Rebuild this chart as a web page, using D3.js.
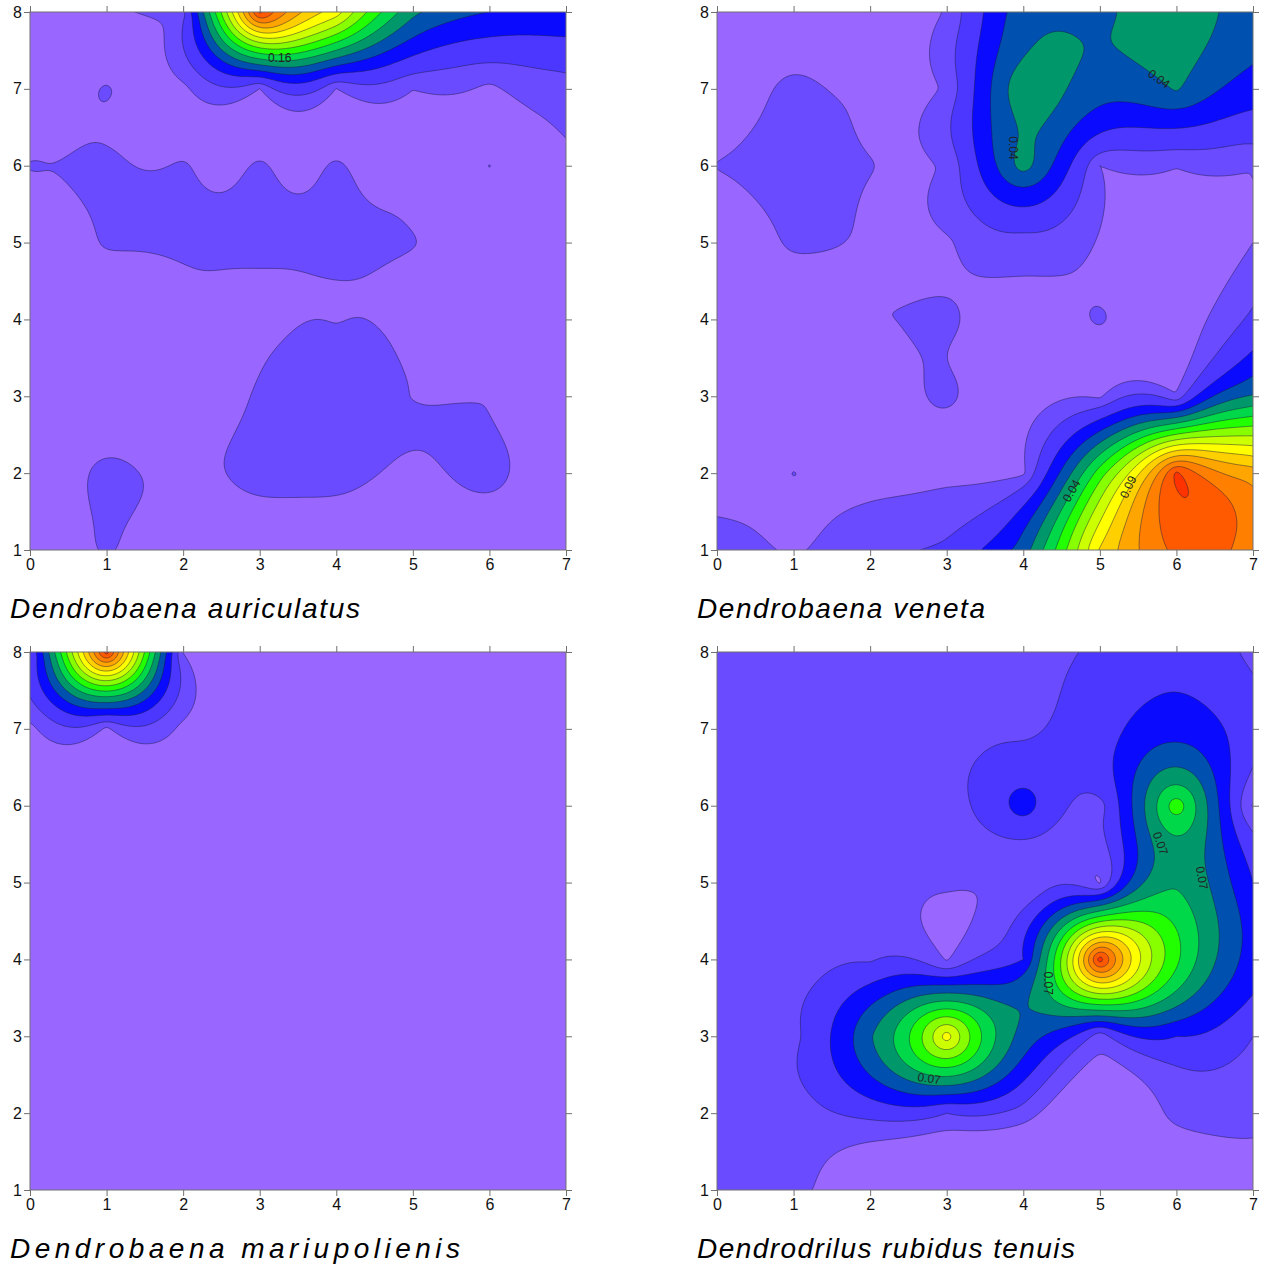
<!DOCTYPE html>
<html>
<head>
<meta charset="utf-8">
<script src="https://cdn.jsdelivr.net/npm/d3@7"></script>
<style>
  body { margin: 0; background: #fff; }
  text { font-family: "Liberation Sans", Arial, sans-serif; }
</style>
</head>
<body>
<div id="chart"></div>
<script>
// sampling sites (grid columns / rows)
const xSites = [0, 1, 2, 3, 4, 5, 6, 7];
const ySites = [8, 7, 6, 5, 4, 3, 2, 1];
const xTicks = [0, 1, 2, 3, 4, 5, 6, 7];
const yTicks = [1, 2, 3, 4, 5, 6, 7, 8];

const titles = [
  "Dendrobaena auriculatus",
  "Dendrobaena veneta",
  "Dendrobaena mariupolienis",
  "Dendrodrilus rubidus tenuis"
];

// density at each site, rows from y = 8 (top) down to y = 1
const auriculatusValues = [
  [0, 0, 0.03, 0.57, 0.38, 0.17, 0.12, 0.11],
  [0, 0.012, 0.004, 0.009, 0.009, 0.011, 0.004, 0.025],
  [0.0105, 0.012, 0.0115, 0.013, 0.013, 0.0098, 0.0103, 0.006],
  [0, 0.011, 0.0106, 0.0108, 0.0108, 0.0105, 0, 0],
  [0, 0, 0.0092, 0.0085, 0.0098, 0.0085, 0, 0],
  [0, 0, 0, 0.011, 0.016, 0.0098, 0.0095, 0],
  [0, 0.013, 0.0085, 0.014, 0.014, 0.008, 0.014, 0],
  [0, 0.011, 0, 0, 0, 0, 0, 0]
];
const venetaValues = [
  [0, 0, 0, 0.0035, 0.036, 0.038, 0.046, 0.035],
  [0, 0.004, 0.0025, 0.004, 0.048, 0.034, 0.041, 0.025],
  [0.0031, 0.0042, 0.0032, 0.004, 0.044, 0.003, 0.0035, 0.0035],
  [0, 0.0035, 0.0028, 0.0022, 0.007, 0.0025, 0, 0.003],
  [0, 0, 0.003, 0.0038, 0, 0.004, 0, 0.012],
  [0, 0, 0, 0.0042, 0, 0.002, 0.004, 0.041],
  [0, 0.0031, 0.002, 0.002, 0.002, 0.065, 0.142, 0.115],
  [0.006, 0.002, 0.007, 0.012, 0.035, 0.101, 0.132, 0.125]
];
const mariupolienisValues = [
  [0.02, 0.29, 0.003, 0, 0, 0, 0, 0],
  [0, 0, 0, 0, 0, 0, 0, 0],
  [0, 0, 0, 0, 0, 0, 0, 0],
  [0, 0, 0, 0, 0, 0, 0, 0],
  [0, 0, 0, 0, 0, 0, 0, 0],
  [0, 0, 0, 0, 0, 0, 0, 0],
  [0, 0, 0, 0, 0, 0, 0, 0],
  [0, 0, 0, 0, 0, 0, 0, 0]
];
const rubidusValues = [
  [0.035, 0.035, 0.035, 0.035, 0.038, 0.041, 0.047, 0.038],
  [0.035, 0.035, 0.035, 0.036, 0.038, 0.045, 0.056, 0.044],
  [0.035, 0.035, 0.035, 0.036, 0.055, 0.037, 0.096, 0.029],
  [0.035, 0.035, 0.035, 0.031, 0.03, 0.029, 0.079, 0.05],
  [0.035, 0.035, 0.039, 0.029, 0.05, 0.175, 0.092, 0.055],
  [0.035, 0.038, 0.069, 0.125, 0.066, 0.034, 0.05, 0.04],
  [0.035, 0.036, 0.043, 0.04, 0.036, 0.012, 0.034, 0.034],
  [0.035, 0.036, 0.01, 0, 0, 0, 0.015, 0.022]
];

// contour levels
const auriculatusLevels = [0.01, 0.04, 0.08, 0.12, 0.16, 0.2, 0.24, 0.28, 0.32, 0.36, 0.4, 0.44, 0.48, 0.52, 0.56];
const venetaLevels = [0.003, 0.01, 0.02, 0.03, 0.04, 0.05, 0.06, 0.07, 0.08, 0.09, 0.1, 0.11, 0.12, 0.13, 0.14];
const mariupolienisLevels = [0.004, 0.02, 0.04, 0.06, 0.08, 0.1, 0.12, 0.14, 0.16, 0.18, 0.2, 0.22, 0.24, 0.26, 0.28];
const rubidusLevels = [0.03, 0.04, 0.05, 0.06, 0.07, 0.08, 0.09, 0.1, 0.11, 0.12, 0.13, 0.14, 0.15, 0.16, 0.17];

// contour labels: [x, y, angle, text]
const auriculatusLabels = [[3.26, 7.40, 0, "0.16"]];
const venetaLabels = [
  [3.86, 6.23, 90, "0.04"],
  [5.77, 7.13, 35, "0.04"],
  [4.63, 1.77, -60, "0.04"],
  [5.37, 1.82, -65, "0.09"]
];
const mariupolienisLabels = [];
const rubidusLabels = [
  [2.77, 2.45, 8, "0.07"],
  [4.32, 3.69, 90, "0.07"],
  [5.79, 5.51, 70, "0.07"],
  [6.33, 5.06, 80, "0.07"]
];

const bandColors = [
  "#9966FF", "#6A4BFF", "#4B37FF", "#0A0AFF", "#0050B0", "#00986A",
  "#00D84A", "#22FF00", "#88FF00", "#CCFF00", "#FFFF00", "#FFD000",
  "#FFA500", "#FF8000", "#FF5A00", "#FF3300"
];

const width = 1270, height = 1267;
const plotW = 536, plotH = 538;
const panels = [
  { left: 30, top: 12, values: auriculatusValues, levels: auriculatusLevels, labels: auriculatusLabels, titleLen: 350 },
  { left: 717, top: 12, values: venetaValues, levels: venetaLevels, labels: venetaLabels, titleLen: 288 },
  { left: 30, top: 652, values: mariupolienisValues, levels: mariupolienisLevels, labels: mariupolienisLabels, titleLen: 450 },
  { left: 717, top: 652, values: rubidusValues, levels: rubidusLevels, labels: rubidusLabels, titleLen: 378 }
];

// ordinary kriging with a linear variogram (dual form)
const fitKriging = (values) => {
  const pts = [];
  ySites.forEach((yv, r) => xSites.forEach((xv, c) => pts.push([xv, yv, values[r][c]])));
  const n = pts.length, m = n + 1;
  const A = [];
  for (let i = 0; i < m; i++) {
    const row = new Float64Array(m + 1);
    for (let j = 0; j < n; j++) {
      row[j] = i < n ? Math.hypot(pts[i][0] - pts[j][0], pts[i][1] - pts[j][1]) : 1;
    }
    row[n] = i < n ? 1 : 0;
    row[m] = i < n ? pts[i][2] : 0;
    A.push(row);
  }
  for (let k = 0; k < m; k++) {
    let p = k;
    for (let i = k + 1; i < m; i++) if (Math.abs(A[i][k]) > Math.abs(A[p][k])) p = i;
    [A[k], A[p]] = [A[p], A[k]];
    for (let i = k + 1; i < m; i++) {
      const f = A[i][k] / A[k][k];
      if (f === 0) continue;
      for (let j = k; j <= m; j++) A[i][j] -= f * A[k][j];
    }
  }
  const w = new Float64Array(m);
  for (let i = m - 1; i >= 0; i--) {
    let s = A[i][m];
    for (let j = i + 1; j < m; j++) s -= A[i][j] * w[j];
    w[i] = s / A[i][i];
  }
  return (x, y) => {
    let s = w[n];
    for (let i = 0; i < n; i++) s += w[i] * Math.hypot(x - pts[i][0], y - pts[i][1]);
    return s;
  };
};

const svg = d3.select("#chart")
  .append("svg")
  .attr("width", width)
  .attr("height", height);

const N = 281;
const step = 7 / (N - 1);

panels.forEach((p, k) => {
  const x = d3.scaleLinear().domain([0, 7]).range([0, plotW]);
  const y = d3.scaleLinear().domain([1, 8]).range([plotH, 0]);

  const g = svg.append("g")
    .attr("transform", `translate(${p.left}, ${p.top})`);

  g.append("clipPath")
    .attr("id", `clip${k}`)
    .append("rect")
    .attr("width", plotW)
    .attr("height", plotH);

  // gridded surface
  const f = fitKriging(p.values);
  const grid = new Float64Array(N * N);
  for (let j = 0; j < N; j++) {
    for (let i = 0; i < N; i++) grid[j * N + i] = f(i * step, 8 - j * step);
  }
  const contours = d3.contours().size([N, N]).thresholds(p.levels)(grid);

  const proj = d3.geoTransform({
    point(cx, cy) {
      this.stream.point(x((cx - 0.5) * step), y(8 - (cy - 0.5) * step));
    }
  });
  const path = d3.geoPath(proj);

  const body = g.append("g").attr("clip-path", `url(#clip${k})`);

  body.append("rect")
    .attr("width", plotW)
    .attr("height", plotH)
    .attr("fill", bandColors[0]);

  body.selectAll("path.band")
    .data(contours)
    .enter()
    .append("path")
    .attr("class", "band")
    .attr("d", path)
    .attr("fill", (d, i) => bandColors[i + 1])
    .attr("stroke", "#1a1a40")
    .attr("stroke-width", 0.6)
    .attr("stroke-opacity", 0.8);

  // contour labels
  body.selectAll("text.lab")
    .data(p.labels)
    .enter()
    .append("text")
    .attr("class", "lab")
    .attr("transform", d => `translate(${x(d[0])}, ${y(d[1])}) rotate(${d[2]})`)
    .attr("text-anchor", "middle")
    .attr("dominant-baseline", "central")
    .attr("font-size", 12)
    .attr("fill", "#222")
    .text(d => d[3]);

  // frame
  g.append("rect")
    .attr("width", plotW)
    .attr("height", plotH)
    .attr("fill", "none")
    .attr("stroke", "#707070")
    .attr("stroke-width", 1);

  // axes
  const styleAxis = sel => {
    sel.select(".domain").remove();
    sel.selectAll(".tick line").attr("stroke", "#707070");
    sel.selectAll(".tick text")
      .attr("fill", "#111")
      .style("font-family", '"Liberation Sans", Arial, sans-serif')
      .style("font-size", "16px");
  };

  g.append("g")
    .attr("transform", `translate(0, ${plotH})`)
    .call(d3.axisBottom(x).tickValues(xTicks).tickSize(6).tickPadding(3).tickFormat(d3.format("d")))
    .call(styleAxis);

  g.append("g")
    .call(d3.axisTop(x).tickValues(xTicks).tickSize(6).tickFormat(""))
    .call(styleAxis);

  g.append("g")
    .call(d3.axisLeft(y).tickValues(yTicks).tickSize(6).tickPadding(2).tickFormat(d3.format("d")))
    .call(styleAxis);

  g.append("g")
    .attr("transform", `translate(${plotW}, 0)`)
    .call(d3.axisRight(y).tickValues(yTicks).tickSize(6).tickFormat(""))
    .call(styleAxis);

  // species name
  g.append("text")
    .attr("x", -20)
    .attr("y", 606)
    .attr("font-size", 28)
    .attr("font-style", "italic")
    .attr("fill", "#000")
    .attr("textLength", p.titleLen)
    .attr("lengthAdjust", "spacing")
    .text(titles[k]);
});
</script>
</body>
</html>
